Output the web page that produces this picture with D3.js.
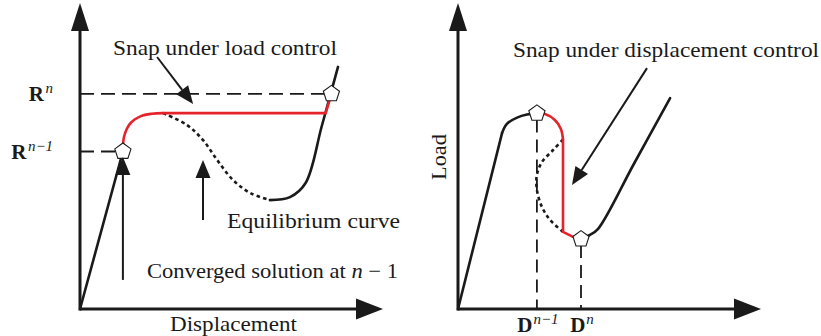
<!DOCTYPE html>
<html>
<head>
<meta charset="utf-8">
<script src="https://cdn.jsdelivr.net/npm/d3@7"></script>
<style>
  html, body { margin: 0; padding: 0; background: #fff; }
  svg { display: block; }
  text { font-family: "Liberation Serif", "Times New Roman", "DejaVu Serif", serif; fill: #1a1a1a; }
</style>
</head>
<body>
<svg id="fig" width="821" height="336"></svg>
<script>
// ---- Left panel: snap-through under load control (load/displacement units 0..100) ----
const leftRise        = [[0, 0], [14.3, 52.5]];
const leftSnapCurve   = [[14.3, 52.5], [14.7, 57.5], [16.7, 61.8], [20.3, 64.3], [24, 65.1], [27.7, 65.3]];
const leftSnapFlat    = [[27.7, 65.3], [81.9, 65.3], [83.8, 71.7]];
const leftUnstable    = [[27.7, 65.3], [35.7, 61.3], [41, 56.3], [45.7, 49.7], [51, 43], [56.7, 38.7], [63.3, 36.3]];
const leftStable      = [[63.3, 36.3], [70, 37.3], [75.2, 42], [80.6, 61], [86, 80.7]];
const leftMarkers     = [[14.3, 52.5], [83.8, 71.7]];
const loadLevels      = [52.5, 71.7];
const loadLabels      = ["n\u22121", "n"];
const leftArrows      = [
  { from: [25.7, 84], to: [37.7, 68.3] },
  { from: [14.3, 9.7], to: [14.3, 50.7] },
  { from: [41, 29.7], to: [41, 49.7] }
];

// ---- Right panel: snap-back under displacement control ----
const rightRise       = [[0, 0], [14.7, 58.7]];
const rightPeak       = [[14.7, 58.7], [16.3, 61.7], [19.7, 63.8], [23, 64.8], [26.3, 65.2]];
const rightSnapCurve  = [[26.3, 65.2], [29, 65], [32.3, 63], [34.3, 60], [35, 56.5]];
const rightSnapDrop   = [[35, 56.5], [35, 25.7], [38, 24.2], [41, 23.3]];
const rightUnstable   = [[35, 56.5], [31.7, 53], [28, 49], [26.3, 44.7], [26.3, 39.7], [28, 34], [30.7, 29.7], [35, 25.7]];
const rightStable     = [[41, 23.3], [44, 24.7], [46.7, 26.7], [58.7, 48.5], [70.7, 70.3]];
const rightMarkers    = [[26.3, 65.2], [41, 23.3]];
const dispLevels      = [26.3, 41];
const dispLabels      = ["n\u22121", "n"];
const rightArrows     = [{ from: [63, 80.3], to: [38, 41.3] }];

const RED = "#e4232b", INK = "#1a1a1a";
const svg = d3.select("#fig");

const xL = d3.scaleLinear().domain([0, 100]).range([80, 380]);
const yL = d3.scaleLinear().domain([0, 100]).range([309, 9]);
const xR = d3.scaleLinear().domain([0, 100]).range([458, 758]);
const yR = d3.scaleLinear().domain([0, 100]).range([309, 9]);

function axes(g, x, y, xEnd, yEnd) {
  const x0 = x(0), y0 = y(0);
  g.append("line").attr("x1", x0).attr("y1", y0).attr("x2", x(xEnd) - 20).attr("y2", y0)
    .attr("stroke", INK).attr("stroke-width", 3);
  g.append("line").attr("x1", x0).attr("y1", y0 + 1.5).attr("x2", x0).attr("y2", y(yEnd) + 20)
    .attr("stroke", INK).attr("stroke-width", 3);
  // arrowheads
  const xt = x(xEnd), yt = y(yEnd);
  g.append("path").attr("d", `M${xt},${y0} L${xt - 27},${y0 - 10.5} L${xt - 27},${y0 + 10.5} Z`).attr("fill", INK);
  g.append("path").attr("d", `M${x0},${yt} L${x0 - 9},${yt + 28} L${x0 + 9},${yt + 28} Z`).attr("fill", INK);
}

function curve(g, x, y, pts, color, opts = {}) {
  const line = d3.line().x(d => x(d[0])).y(d => y(d[1]))
    .curve(opts.linear ? d3.curveLinear : d3.curveCatmullRom.alpha(0.5));
  g.append("path").attr("d", line(pts)).attr("fill", "none")
    .attr("stroke", color).attr("stroke-width", opts.width || 2.6)
    .attr("stroke-linecap", opts.dash ? "butt" : "round")
    .attr("stroke-linejoin", "round")
    .attr("stroke-dasharray", opts.dash || null);
}

function pentagon(g, cx, cy, r) {
  const pts = d3.range(5).map(i => {
    const a = -Math.PI / 2 + i * 2 * Math.PI / 5;
    return [cx + r * Math.cos(a), cy + r * Math.sin(a)];
  });
  g.append("path").attr("d", "M" + pts.join("L") + "Z")
    .attr("fill", "#fff").attr("stroke", INK).attr("stroke-width", 1.1);
}

function arrow(g, x, y, a) {
  const x1 = x(a.from[0]), y1 = y(a.from[1]), x2 = x(a.to[0]), y2 = y(a.to[1]);
  const ang = Math.atan2(y2 - y1, x2 - x1), len = 18, hw = 7.5;
  const bx = x2 - len * Math.cos(ang), by = y2 - len * Math.sin(ang);
  g.append("line").attr("x1", x1).attr("y1", y1).attr("x2", bx).attr("y2", by)
    .attr("stroke", INK).attr("stroke-width", 2);
  const px = -Math.sin(ang) * hw, py = Math.cos(ang) * hw;
  g.append("path").attr("d", `M${x2},${y2} L${bx + px},${by + py} L${bx - px},${by - py} Z`).attr("fill", INK);
}

function label(g, x, y, len) {
  return g.append("text").attr("x", x).attr("y", y).attr("font-size", 21)
    .attr("textLength", len).attr("lengthAdjust", "spacingAndGlyphs");
}

// ===== Left panel =====
const gL = svg.append("g");
// load level guides
loadLevels.forEach((v, i) => {
  gL.append("line").attr("x1", xL(0)).attr("x2", xL(leftMarkers[i][0]))
    .attr("y1", yL(v)).attr("y2", yL(v))
    .attr("stroke", INK).attr("stroke-width", 1.8).attr("stroke-dasharray", "14,7");
});
curve(gL, xL, yL, leftRise, INK, { linear: true });
curve(gL, xL, yL, leftUnstable, INK, { dash: "3.5,3.2" });
curve(gL, xL, yL, leftStable, INK);
curve(gL, xL, yL, leftSnapCurve, RED);
curve(gL, xL, yL, leftSnapFlat, RED, { linear: true });
axes(gL, xL, yL, 101, 102);
leftMarkers.forEach(p => pentagon(gL, xL(p[0]), yL(p[1]), 8.5));
leftArrows.forEach(a => arrow(gL, xL, yL, a));

// load level labels: bold R with italic superscript
loadLevels.forEach((v, i) => {
  const t = gL.append("text").attr("x", 53).attr("y", yL(v) + 7.5)
    .attr("text-anchor", "end").attr("font-size", 21);
  t.append("tspan").attr("font-weight", "bold").text("R");
  t.append("tspan").attr("font-size", 15).attr("font-style", "italic").attr("dy", -8).attr("dx", 1.5)
    .text(loadLabels[i]);
});

label(gL, 113, 55, 224).text("Snap under load control");
label(gL, 227, 228, 173).text("Equilibrium curve");
{
  const t = label(gL, 147, 278, 251);
  t.append("tspan").text("Converged solution at ");
  t.append("tspan").attr("font-style", "italic").text("n");
  t.append("tspan").text(" \u2212 1");
}
label(gL, 170, 330.5, 127).text("Displacement");

// ===== Right panel =====
const gR = svg.append("g");
dispLevels.forEach((v, i) => {
  gR.append("line").attr("x1", xR(v)).attr("x2", xR(v))
    .attr("y1", yR(rightMarkers[i][1]) + 6).attr("y2", yR(0))
    .attr("stroke", INK).attr("stroke-width", 1.8).attr("stroke-dasharray", "13,7");
});
curve(gR, xR, yR, rightRise, INK, { linear: true });
curve(gR, xR, yR, rightPeak, INK);
curve(gR, xR, yR, rightUnstable, INK, { dash: "3.5,3.2" });
curve(gR, xR, yR, rightStable, INK);
curve(gR, xR, yR, rightSnapCurve, RED);
curve(gR, xR, yR, rightSnapDrop, RED, { linear: true });
axes(gR, xR, yR, 101, 102);
rightMarkers.forEach(p => pentagon(gR, xR(p[0]), yR(p[1]), 8.5));
rightArrows.forEach(a => arrow(gR, xR, yR, a));

dispLevels.forEach((v, i) => {
  const t = gR.append("text").attr("x", xR(v) + 1).attr("y", 332)
    .attr("text-anchor", "middle").attr("font-size", 21);
  t.append("tspan").attr("font-weight", "bold").text("D");
  t.append("tspan").attr("font-size", 15).attr("font-style", "italic").attr("dy", -8).attr("dx", 1)
    .text(dispLabels[i]);
});

label(gR, 513, 57, 306).text("Snap under displacement control");
gR.append("text").attr("transform", "translate(446,157) rotate(-90)")
  .attr("text-anchor", "middle").attr("font-size", 21)
  .attr("textLength", 46).attr("lengthAdjust", "spacingAndGlyphs").text("Load");
</script>
</body>
</html>
